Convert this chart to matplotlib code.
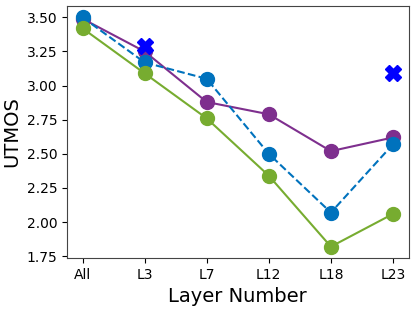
import matplotlib
matplotlib.use("Agg")
import matplotlib.pyplot as plt

# Data
layers = ["All", "L3", "L7", "L12", "L18", "L23"]
purple_vals = [3.49, 3.25, 2.88, 2.79, 2.52, 2.62]
blue_vals = [3.50, 3.17, 3.05, 2.50, 2.07, 2.57]
green_vals = [3.42, 3.09, 2.76, 2.34, 1.82, 2.06]
x_layers = ["L3", "L23"]
x_vals = [3.29, 3.09]

xs = list(range(len(layers)))
x_pos = [layers.index(l) for l in x_layers]

fig, ax = plt.subplots(figsize=(4.16, 3.11), dpi=100)

ax.plot(xs, purple_vals, "-o", color="#7E2F8E", markersize=10, lw=1.5)
ax.plot(xs, blue_vals, "--o", color="#0072BD", markersize=10, lw=1.5)
ax.plot(xs, green_vals, "-o", color="#77AC30", markersize=10, lw=1.5)
ax.plot(x_pos, x_vals, "X", color="#0000FF", markersize=11, linestyle="none")

ax.set_xticks(xs)
ax.set_xticklabels(layers)
ax.set_yticks([1.75, 2.00, 2.25, 2.50, 2.75, 3.00, 3.25, 3.50])
ax.tick_params(labelsize=10)
ax.set_xlabel("Layer Number", fontsize=14)
ax.set_ylabel("UTMOS", fontsize=14)

for s in ax.spines.values():
    s.set_color("#444444")

plt.subplots_adjust(left=0.161, right=0.982, top=0.981, bottom=0.17)
fig.savefig("out.png", dpi=100)
